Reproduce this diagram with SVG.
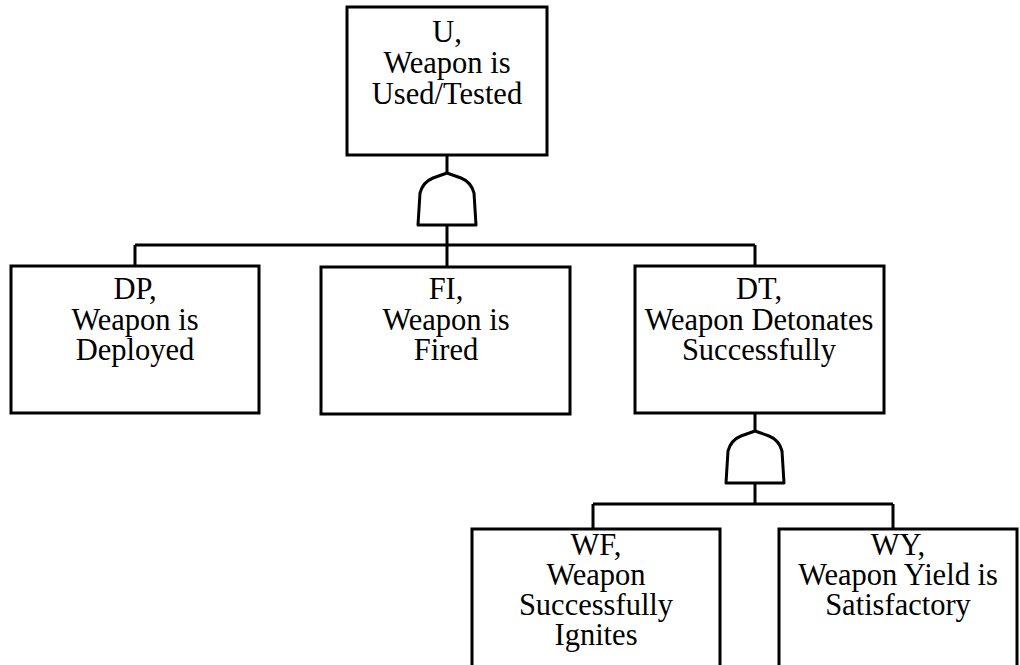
<svg xmlns="http://www.w3.org/2000/svg" width="1020" height="665" viewBox="0 0 1020 665">
<style>
.box{fill:#fff;stroke:#000;stroke-width:3}
.gate{fill:#fff;stroke:#000;stroke-width:3;stroke-linejoin:round}
.wire{fill:none;stroke:#000;stroke-width:3}
.t{font-family:'Liberation Serif','DejaVu Serif',serif;font-size:30.5px;fill:#000;text-anchor:middle}
</style>
<defs>
<path id="andgate" d="M-29,26 L-27,-6 Q-24,-17 -14,-21 L0,-26 L14,-21 Q24,-17 27,-6 L29,26 Z"/>
</defs>
<rect width="1020" height="665" fill="#fff"/>
<g id="connectors">
<path class="wire" d="M447,155 V173 M447,223 V267 M135,245 H755 M135,245 V266 M755,245 V266"/>
<path class="wire" d="M755,413 V431 M755,483 V504 M593,504 H893 M593,504 V529 M893,504 V529"/>
</g>
<g id="gate-U"><use href="#andgate" class="gate" x="447" y="199"/></g>
<g id="gate-DT"><use href="#andgate" class="gate" x="755" y="457"/></g>
<g id="node-U">
<rect class="box" x="347" y="7" width="200" height="148"/>
<text class="t" y="42"><tspan x="447">U,</tspan><tspan x="447" dy="31">Weapon is</tspan><tspan x="447" dy="31">Used/Tested</tspan></text>
</g>
<g id="node-DP">
<rect class="box" x="11" y="266" width="248" height="147"/>
<text class="t" y="299"><tspan x="135">DP,</tspan><tspan x="135" dy="30.5">Weapon is</tspan><tspan x="135" dy="30">Deployed</tspan></text>
</g>
<g id="node-FI">
<rect class="box" x="321" y="267" width="249" height="147"/>
<text class="t" y="299"><tspan x="446">FI,</tspan><tspan x="446" dy="30.5">Weapon is</tspan><tspan x="446" dy="30">Fired</tspan></text>
</g>
<g id="node-DT">
<rect class="box" x="635" y="266" width="249" height="147"/>
<text class="t" y="299"><tspan x="759">DT,</tspan><tspan x="759" dy="30.5">Weapon Detonates</tspan><tspan x="759" dy="30">Successfully</tspan></text>
</g>
<g id="node-WF">
<rect class="box" x="472" y="529" width="248" height="160"/>
<text class="t" y="555"><tspan x="596">WF,</tspan><tspan x="596" dy="30">Weapon</tspan><tspan x="596" dy="30">Successfully</tspan><tspan x="596" dy="30">Ignites</tspan></text>
</g>
<g id="node-WY">
<rect class="box" x="779" y="529" width="238" height="160"/>
<text class="t" y="555"><tspan x="898">WY,</tspan><tspan x="898" dy="30">Weapon Yield is</tspan><tspan x="898" dy="30">Satisfactory</tspan></text>
</g>
</svg>
